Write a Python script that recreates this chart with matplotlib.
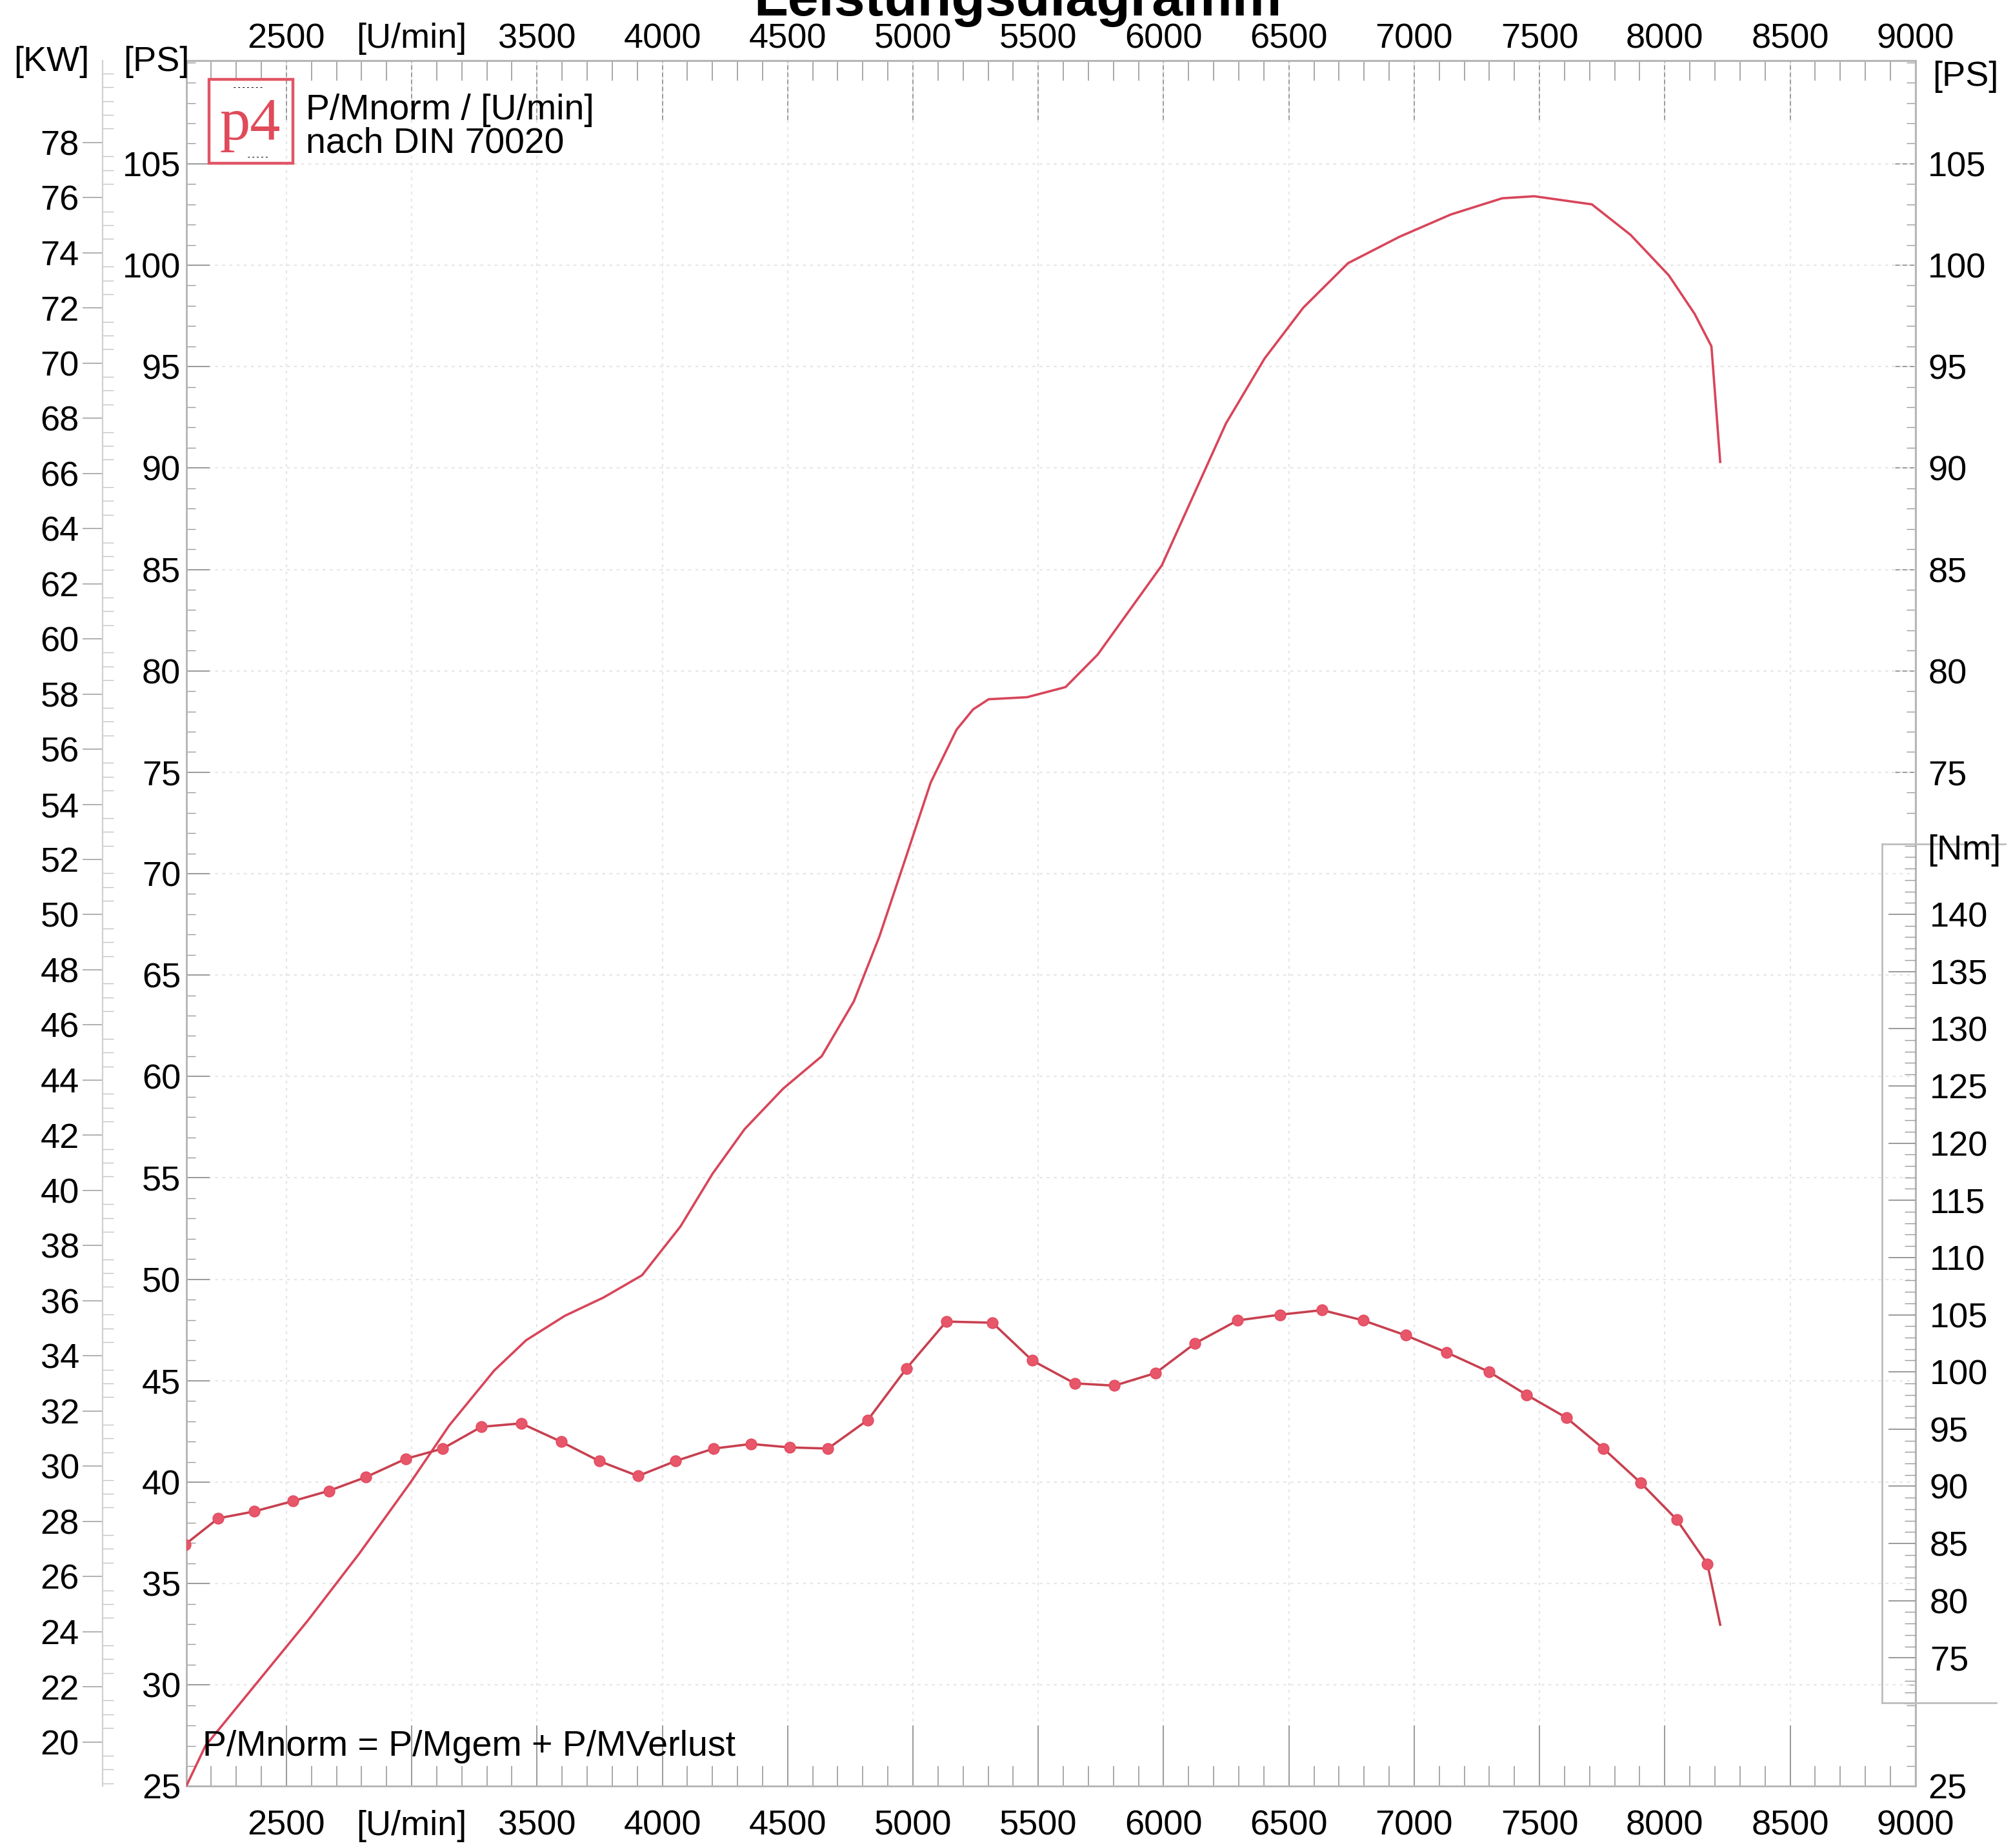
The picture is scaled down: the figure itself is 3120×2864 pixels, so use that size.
import numpy as np
import matplotlib
matplotlib.use('Agg')
import matplotlib.pyplot as plt
from matplotlib.patches import Rectangle
from matplotlib.lines import Line2D
from matplotlib.ticker import FixedLocator, MultipleLocator

plt.rcParams['font.family'] = ['Liberation Sans', 'DejaVu Sans']

# layout grid used for placing things (reference at half scale)
W, H = 1568, 1439


def fx(x):
    return x / W


def fy(y):
    return 1 - y / H


# power curve, P/Mnorm [PS] over engine speed [U/min]
power_rpm = [2100, 2177, 2382, 2587, 2792, 2996, 3150, 3329, 3457, 3611, 3765, 3919,
             4072, 4200, 4328, 4482, 4636, 4764, 4866, 4969, 5071, 5174, 5240, 5302, 5455,
             5609, 5737, 5865, 5993, 6121, 6249, 6403, 6557, 6736, 6941, 7146, 7351,
             7479, 7709, 7863, 8016, 8119, 8186, 8221]
power_ps = [25.0, 27.0, 30.1, 33.2, 36.5, 40.0, 42.8, 45.5, 47.0, 48.2, 49.1, 50.2,
            52.6, 55.2, 57.4, 59.4, 61.0, 63.7, 66.9, 70.7, 74.5, 77.1, 78.1, 78.6, 78.7,
            79.2, 80.8, 83.0, 85.2, 88.7, 92.2, 95.4, 97.9, 100.1, 101.4, 102.5, 103.3,
            103.4, 103.0, 101.5, 99.5, 97.6, 96.0, 90.3]

# torque curve [Nm]; last point is the end of the trace (no marker)
torque_rpm = [2095, 2228, 2371, 2525, 2669, 2817, 2976, 3124, 3278, 3437, 3596, 3749,
              3903, 4052, 4205, 4354, 4508, 4661, 4820, 4974, 5133, 5317, 5476, 5645,
              5804, 5968, 6126, 6295, 6464, 6633, 6797, 6966, 7130, 7299, 7448, 7607,
              7755, 7904, 8047, 8170, 8221]
torque_nm = [84.9, 87.2, 87.8, 88.7, 89.6, 90.8, 92.4, 93.3, 95.2, 95.5, 93.9, 92.2,
             90.9, 92.2, 93.3, 93.7, 93.4, 93.3, 95.8, 100.3, 104.4, 104.3, 101.0, 99.0,
             98.8, 99.9, 102.5, 104.5, 105.0, 105.4, 104.5, 103.2, 101.7, 100.0, 98.0, 96.0,
             93.3, 90.3, 87.1, 83.2, 77.9]

rpm_ticks = [2500, 3000, 3500, 4000, 4500, 5000, 5500, 6000, 6500, 7000, 7500, 8000, 8500, 9000]
rpm_labels = ['2500', '[U/min]', '3500', '4000', '4500', '5000', '5500', '6000',
              '6500', '7000', '7500', '8000', '8500', '9000']
ps_ticks = [25, 30, 35, 40, 45, 50, 55, 60, 65, 70, 75, 80, 85, 90, 95, 100, 105]
ps_right_ticks = [25, 75, 80, 85, 90, 95, 100, 105]
kw_ticks = list(range(20, 80, 2))
nm_ticks = [75, 80, 85, 90, 95, 100, 105, 110, 115, 120, 125, 130, 135, 140]

RED = '#d8455a'
TICK = '#9a9a9a'
FS = 19.5

fig = plt.figure(figsize=(15.6, 14.32), dpi=200)
ax = fig.add_axes([fx(145), fy(1391), fx(1492) - fx(145), fy(47) - fy(1391)])
ax.set_xlim(2100, 9000)
ax.set_ylim(25, 110.1)
for sp in ax.spines.values():
    sp.set_color('#b4b4b4')
    sp.set_linewidth(1.0)

ax.grid(True, color='#e6e6e6', ls=(0, (2, 3)), lw=0.8)
ax.set_axisbelow(True)

# x axis bottom + top
ax.xaxis.set_major_locator(FixedLocator(rpm_ticks))
ax.set_xticklabels(rpm_labels)
ax.xaxis.set_minor_locator(MultipleLocator(100))
ax.tick_params(axis='x', which='both', direction='in', colors=TICK, labelcolor='black',
               labelsize=FS, pad=13)
ax.tick_params(axis='x', which='major', length=34, width=0.7)
ax.tick_params(axis='x', which='minor', length=11, width=0.6)

top = ax.secondary_xaxis('top')
top.xaxis.set_major_locator(FixedLocator(rpm_ticks))
top.set_xticklabels(rpm_labels)
top.xaxis.set_minor_locator(MultipleLocator(100))
top.tick_params(which='both', direction='in', colors=TICK, labelcolor='black',
                labelsize=FS, pad=3)
top.tick_params(which='major', length=34, width=0.7)
top.tick_params(which='minor', length=11, width=0.6)
top.spines['top'].set_color('#b4b4b4')

# PS left
ax.yaxis.set_major_locator(FixedLocator(ps_ticks))
ax.yaxis.set_minor_locator(MultipleLocator(1))
ax.tick_params(axis='y', which='both', direction='in', colors=TICK, labelcolor='black',
               labelsize=FS, pad=3)
ax.tick_params(axis='y', which='major', length=13, width=0.7)
ax.tick_params(axis='y', which='minor', length=5, width=0.5)

# PS right (partial scale)
right = ax.secondary_yaxis('right')
right.yaxis.set_major_locator(FixedLocator(ps_right_ticks))
right.yaxis.set_minor_locator(FixedLocator(list(range(73, 111)) + list(range(25, 31))))
right.tick_params(which='both', direction='in', colors=TICK, labelcolor='black',
                  labelsize=FS, pad=7)
right.tick_params(which='major', length=13, width=0.7)
right.tick_params(which='minor', length=5, width=0.5)
right.spines['right'].set_color('#b4b4b4')

# kW scale on the far left
kw = ax.secondary_yaxis(-0.0483, functions=(lambda p: p * 0.7355, lambda k: k / 0.7355))
kw.yaxis.set_major_locator(FixedLocator(kw_ticks))
kw.yaxis.set_minor_locator(MultipleLocator(0.5))
kw.tick_params(which='major', direction='out', length=11, width=0.7, colors='#b0b0b0',
               labelcolor='black', labelsize=FS, pad=2)
kw.tick_params(which='minor', direction='in', length=6, width=0.5, colors='#c4c4c4')
kw.spines['left'].set_color('#d0d0d0')

# torque on its own scale, shown in a box on the right
tq = ax.twinx()
tq.set_ylim(63.77, 214.65)
tq.yaxis.set_major_locator(FixedLocator(nm_ticks))
tq.yaxis.set_minor_locator(FixedLocator(list(range(71, 147))))
tq.tick_params(which='both', direction='in', colors=TICK, labelcolor='black',
               labelsize=FS, pad=8)
tq.tick_params(which='major', length=15, width=0.7)
tq.tick_params(which='minor', length=6, width=0.5)
for sp in tq.spines.values():
    sp.set_visible(False)

ax.plot(power_rpm, power_ps, color=RED, lw=1.3, zorder=3)
tq.plot(torque_rpm, torque_nm, color='#c8404f', lw=1.3, marker='o', ms=6,
        markerfacecolor='#e8566a', markeredgecolor='#e24c62', markeredgewidth=0.6,
        markevery=slice(0, len(torque_rpm) - 1), zorder=3)

# box around the Nm scale
for xs, ys in [((1466, 1466), (657, 1326)), ((1466, 1562), (657, 657)),
               ((1466, 1555), (1326, 1326))]:
    fig.add_artist(Line2D([fx(xs[0]), fx(xs[1])], [fy(ys[0]), fy(ys[1])],
                          color='#bdbdbd', lw=1.0))

# texts
fig.text(fx(793), fy(12), 'Leistungsdiagramm', ha='center', va='baseline',
         fontsize=31, weight='bold')
fig.text(fx(40), fy(48), '[KW]', ha='center', va='center', fontsize=FS)
fig.text(fx(122), fy(48), '[PS]', ha='center', va='center', fontsize=FS)
fig.text(fx(1531), fy(60), '[PS]', ha='center', va='center', fontsize=FS)
fig.text(fx(1530), fy(662), '[Nm]', ha='center', va='center', fontsize=FS)
fig.text(fx(238), fy(86), 'P/Mnorm / [U/min]', ha='left', va='center', fontsize=20)
fig.text(fx(238), fy(112), 'nach DIN 70020', ha='left', va='center', fontsize=20)
fig.text(fx(158), fy(1360), 'P/Mnorm = P/Mgem + P/MVerlust', ha='left', va='center',
         fontsize=20)

# p4 logo
fig.add_artist(Rectangle((fx(163), fy(127)), fx(228) - fx(163), fy(62) - fy(127),
                         transform=fig.transFigure, fill=False, edgecolor='#e05565', lw=1.6))
fig.text(fx(195), fy(97), 'p4', ha='center', va='center', fontsize=34, color='#e04a5a',
         family='Liberation Serif')
fig.text(fx(193), fy(68), '- - - - - - -', ha='center', va='center', fontsize=4, weight='bold')
fig.text(fx(201), fy(122), '- - - - -', ha='center', va='center', fontsize=4, weight='bold')

fig.savefig('out.png', dpi=200)
